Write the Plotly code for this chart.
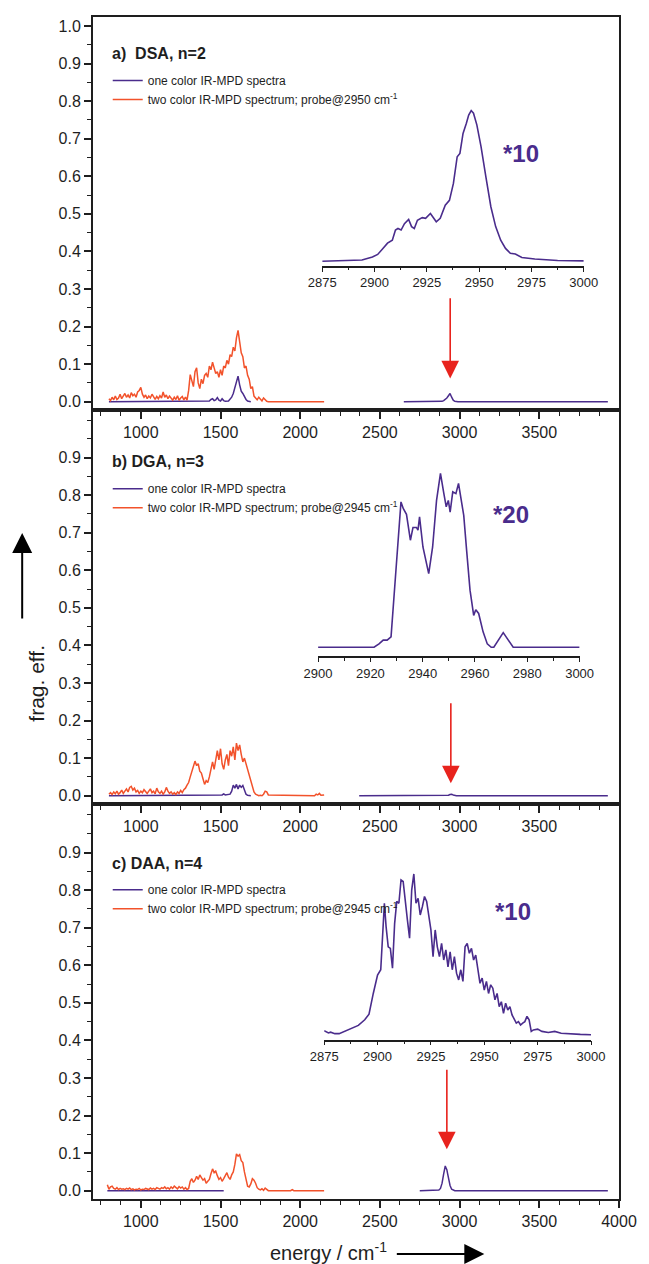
import plotly.graph_objects as go

PURPLE = '#4a2c8c'
ORANGE = '#f2522b'
RED = '#e8231d'
AX = '#1e1e1e'
TXT = '#1e1e1e'
FONT = 'Liberation Sans, Arial, sans-serif'

# ---------------- data ----------------
# panel a) DSA, n=2
a_one_x = [800, 1420, 1430, 1440, 1450, 1460, 1470, 1480, 1490, 1500, 1510, 1520, 1530, 1550, 1560,
           1570, 1580, 1590, 1600, 1610, 1620, 1630, 1640, 1650, 1660, 1670, 1690, 1700,
           2650, 2870, 2890, 2900, 2910, 2920, 2930, 2940, 2950, 2960, 2970, 2990, 3930]
a_one_y = [0, 0, 0.002, 0.006, 0.008, 0.003, 0.005, 0.011, 0.004, 0.002, 0.008, 0.003, 0.001, 0.002, 0.006,
           0.012, 0.022, 0.038, 0.056, 0.068, 0.045, 0.028, 0.022, 0.012, 0.006, 0.002, 0, None,
           0, 0, 0.001, 0.003, 0.006, 0.010, 0.016, 0.022, 0.012, 0.004, 0.001, 0, 0]
a_two_x = list(range(800, 1801, 10)) + [2150]
a_two_y = [0.008, 0.003, 0.012, 0.005, 0.015, 0.006, 0.010, 0.020, 0.008, 0.014,
           0.022, 0.012, 0.018, 0.010, 0.024, 0.016, 0.020, 0.012, 0.026, 0.030,
           0.038, 0.020, 0.012, 0.018, 0.008, 0.015, 0.010, 0.020, 0.012, 0.006,
           0.014, 0.008, 0.016, 0.010, 0.026, 0.012, 0.018, 0.008, 0.015, 0.010,
           0.004, 0.012, 0.006, 0.016, 0.004, 0.010, 0.014, 0.005, 0.012, 0.004,
           0.030, 0.072, 0.055, 0.040, 0.080, 0.090, 0.050, 0.035, 0.060, 0.048,
           0.070, 0.075, 0.065, 0.095, 0.085, 0.105, 0.090, 0.075, 0.080, 0.065,
           0.085, 0.070, 0.095, 0.090, 0.110, 0.100, 0.125, 0.120, 0.145, 0.135,
           0.170, 0.190, 0.160, 0.130, 0.120, 0.090, 0.095, 0.070, 0.060, 0.035,
           0.040, 0.015, 0.010, 0.005, 0.012, 0.008, 0.002, 0.010, 0.004, 0.001,
           0.000, 0.000]
a_inset_x = [2875, 2894, 2899, 2901.5, 2903.9, 2906.2, 2908.5, 2910, 2911.2, 2912.7, 2914.3, 2916.3,
             2917.7, 2919, 2920.5, 2922.8, 2924.4, 2926.7, 2929.5, 2931.4, 2933.8, 2935.8, 2937.7,
             2939.5, 2940.8, 2942.3, 2943.9, 2945, 2946.2, 2947.3, 2948.9, 2950.9, 2953.2, 2955.6,
             2957.9, 2960.3, 2962.6, 2964.9, 2967.3, 2970.4, 2976.6, 2987.5, 3000]
a_inset_y = [0.374, 0.377, 0.385, 0.392, 0.407, 0.422, 0.430, 0.457, 0.461, 0.457, 0.474, 0.485,
             0.466, 0.461, 0.483, 0.490, 0.488, 0.501, 0.479, 0.488, 0.523, 0.536, 0.581,
             0.652, 0.661, 0.714, 0.741, 0.763, 0.775, 0.768, 0.737, 0.679, 0.599, 0.519,
             0.466, 0.430, 0.408, 0.395, 0.393, 0.384, 0.380, 0.376, 0.375]

# panel b) DGA, n=3
b_one_x = [800, 1340, 1350, 1360, 1500, 1510, 1520, 1530, 1560, 1570, 1580, 1590, 1600, 1610, 1620,
           1630, 1640, 1650, 1660, 1670, 1690, 1700,
           2370, 2900, 2930, 2940, 2950, 2960, 2980, 3200, 3210, 3220, 3930]
b_one_y = [0, 0, 0.002, 0, 0, 0.002, 0.005, 0.002, 0.004, 0.012, 0.028, 0.020, 0.030, 0.018, 0.028,
           0.022, 0.027, 0.012, 0.004, 0.001, 0, None,
           0, 0, 0.001, 0.003, 0.004, 0.002, 0, 0, 0.001, 0, 0]
b_two_x = list(range(800, 1801, 10)) + [2090, 2100, 2110, 2120, 2130, 2150]
b_two_y = [0.004, 0.008, 0.003, 0.010, 0.005, 0.012, 0.004, 0.008, 0.015, 0.006,
           0.012, 0.018, 0.010, 0.022, 0.025, 0.015, 0.020, 0.010, 0.014, 0.006,
           0.012, 0.008, 0.016, 0.010, 0.006, 0.012, 0.018, 0.008, 0.012, 0.005,
           0.020, 0.010, 0.006, 0.012, 0.004, 0.010, 0.022, 0.012, 0.006, 0.010,
           0.004, 0.008, 0.003, 0.010, 0.006, 0.014, 0.008, 0.016, 0.020, 0.028,
           0.035, 0.050, 0.062, 0.075, 0.092, 0.080, 0.085, 0.065, 0.060, 0.045,
           0.030, 0.040, 0.035, 0.050, 0.075, 0.090, 0.070, 0.100, 0.120, 0.095,
           0.125, 0.085, 0.070, 0.095, 0.110, 0.080, 0.120, 0.105, 0.130, 0.095,
           0.140, 0.120, 0.135, 0.110, 0.090, 0.100, 0.085, 0.070, 0.055, 0.035,
           0.020, 0.010, 0.004, 0.002, 0.000, 0.001, 0.000, 0.004, 0.012, 0.010,
           0.002, 0.000, 0.004, 0.002, 0.006, 0.001, 0.002]
b_inset_x = [2900, 2921.4, 2923.3, 2924.9, 2926.4, 2927.9, 2929.5, 2930.9, 2931.7, 2932.6, 2933.8,
             2935.3, 2936.3, 2937.6, 2938.2, 2938.8, 2940.1, 2942.3, 2943.8, 2945.3, 2946.8, 2948.1,
             2949, 2949.8, 2950.5, 2951.5, 2952.7, 2953.7, 2954.7, 2955.7, 2956.8, 2958.1, 2959.5,
             2960.3, 2961.4, 2963.1, 2964.7, 2966.2, 2967.2, 2970.8, 2974.6, 3000]
b_inset_y = [0.395, 0.395, 0.404, 0.414, 0.414, 0.423, 0.574, 0.725, 0.782, 0.764, 0.749,
             0.680, 0.714, 0.714, 0.707, 0.742, 0.662, 0.591, 0.662, 0.786, 0.858, 0.804,
             0.769, 0.786, 0.755, 0.809, 0.804, 0.831, 0.786, 0.746, 0.653, 0.547, 0.480,
             0.495, 0.485, 0.436, 0.404, 0.395, 0.395, 0.434, 0.395, 0.395]

# panel c) DAA, n=4
c_one_x = [790, 1520, 1530, 2750, 2860, 2870, 2880, 2890, 2900, 2905, 2910, 2915, 2920, 2925, 2930,
           2940, 2950, 2960, 2970, 3930]
c_one_y = [0, 0, None, 0, 0, 0.002, 0.006, 0.020, 0.045, 0.058, 0.066, 0.060, 0.056, 0.045, 0.032,
           0.014, 0.004, 0.001, 0, 0]
c_two_x = list(range(790, 1801, 10)) + [1940, 1950, 1960, 2150]
c_two_y = [0.016, 0.004, 0.010, 0.012, 0.006, 0.004, 0.008, 0.003, 0.006, 0.004,
           0.005, 0.003, 0.006, 0.004, 0.007, 0.003, 0.005, 0.002, 0.004, 0.003,
           0.006, 0.002, 0.004, 0.003, 0.006, 0.004, 0.003, 0.007, 0.004, 0.006,
           0.003, 0.008, 0.005, 0.004, 0.008, 0.006, 0.010, 0.005, 0.008, 0.004,
           0.010, 0.006, 0.012, 0.008, 0.005, 0.011, 0.007, 0.010, 0.004, 0.008,
           0.003, 0.006, 0.025, 0.032, 0.022, 0.028, 0.038, 0.030, 0.042, 0.035,
           0.028, 0.032, 0.020, 0.025, 0.030, 0.045, 0.058, 0.048, 0.052, 0.040,
           0.030, 0.035, 0.025, 0.032, 0.040, 0.048, 0.036, 0.030, 0.042, 0.050,
           0.070, 0.098, 0.092, 0.096, 0.080, 0.075, 0.050, 0.030, 0.012, 0.010,
           0.018, 0.032, 0.028, 0.020, 0.008, 0.004, 0.002, 0.005, 0.001, 0.007,
           0.002, 0.000, 0.000, 0.003, 0.000, 0.000]
c_inset_x = [2875, 2876, 2877, 2878, 2880, 2882, 2885, 2888, 2891, 2894, 2896, 2898, 2900, 2901.5,
             2902.5, 2903.2, 2904, 2905, 2906, 2907, 2908, 2909, 2910, 2911, 2912, 2913, 2914, 2915,
             2916, 2917, 2918, 2919, 2920, 2921, 2922, 2923, 2924, 2925, 2926, 2927, 2928, 2929,
             2930, 2931, 2932, 2933, 2934, 2935, 2936, 2937, 2938, 2939, 2940, 2941, 2942, 2943,
             2944, 2945, 2946, 2947, 2948, 2949, 2950, 2951, 2952, 2953, 2954, 2955, 2956, 2957,
             2958, 2959, 2960, 2961, 2962, 2963, 2964, 2965, 2966, 2967, 2968, 2969, 2970, 2971,
             2972, 2973, 2975, 2977, 2980, 2983, 2986, 2990, 2995, 3000]
c_inset_y = [0.426, 0.424, 0.420, 0.422, 0.418, 0.418, 0.425, 0.432, 0.440, 0.455, 0.470, 0.525,
             0.574, 0.588, 0.703, 0.765, 0.703, 0.649, 0.645, 0.592, 0.711, 0.770, 0.765, 0.827,
             0.823, 0.778, 0.720, 0.672, 0.800, 0.843, 0.765, 0.778, 0.734, 0.756, 0.783, 0.770,
             0.729, 0.694, 0.623, 0.694, 0.649, 0.623, 0.658, 0.614, 0.641, 0.596, 0.636, 0.588,
             0.623, 0.579, 0.561, 0.588, 0.557, 0.649, 0.658, 0.632, 0.645, 0.614, 0.627, 0.588,
             0.552, 0.566, 0.534, 0.557, 0.525, 0.548, 0.539, 0.508, 0.525, 0.490, 0.503, 0.472,
             0.499, 0.481, 0.490, 0.468, 0.455, 0.446, 0.450, 0.441, 0.446, 0.450, 0.464, 0.455,
             0.424, 0.428, 0.430, 0.424, 0.421, 0.424, 0.419, 0.417, 0.416, 0.415]

panel_labels = ['a)  DSA, n=2', 'b) DGA, n=3', 'c) DAA, n=4']
probe_labels = ['two color IR-MPD spectrum; probe@2950 cm<sup>-1</sup>',
                'two color IR-MPD spectrum; probe@2945 cm<sup>-1</sup>',
                'two color IR-MPD spectrum; probe@2945 cm<sup>-1</sup>']
scale_labels = ['*10', '*20', '*10']
probe_pos = [2941, 2945, 2920]

main_ticks_top = [1000, 1500, 2000, 2500, 3000, 3500]
main_ticks_bottom = [1000, 1500, 2000, 2500, 3000, 3500, 4000]

# --------------- layout geometry ---------------
W, H = 649, 1264
ML, MR, MT, MB = 93, 19, 17, 65
y_dom = {1: [0.6675, 1.0], 2: [0.3342, 0.6675], 3: [0.0, 0.3342]}
y_rng = {1: [-0.0221, 1.0240], 2: [-0.0221, 1.0266], 3: [-0.0221, 1.0293]}
xr = [700, 4000]

fig = go.Figure()

panels = [
    (1, '', a_one_x, a_one_y, a_two_x, a_two_y, a_inset_x, a_inset_y, 'legend'),
    (2, '2', b_one_x, b_one_y, b_two_x, b_two_y, b_inset_x, b_inset_y, 'legend2'),
    (3, '3', c_one_x, c_one_y, c_two_x, c_two_y, c_inset_x, c_inset_y, 'legend3'),
]

for (p, s, ox, oy, tx, ty, ix, iy, lg) in panels:
    fig.add_trace(go.Scatter(x=ox, y=oy, mode='lines', line=dict(color=PURPLE, width=1.5),
                             name='one color IR-MPD spectra', xaxis='x' + s, yaxis='y' + s,
                             legend=lg, connectgaps=False))
    fig.add_trace(go.Scatter(x=tx, y=ty, mode='lines', line=dict(color=ORANGE, width=1.5),
                             name=probe_labels[p - 1], xaxis='x' + s, yaxis='y' + s, legend=lg))
    fig.add_trace(go.Scatter(x=ix, y=iy, mode='lines', line=dict(color=PURPLE, width=1.6),
                             showlegend=False, xaxis='x' + str(p + 3), yaxis='y' + str(p + 3)))

tickfont = dict(family=FONT, size=16, color=TXT)
inset_font = dict(family=FONT, size=13, color=TXT)

layout = dict(
    width=W, height=H, margin=dict(l=ML, r=MR, t=MT, b=MB),
    paper_bgcolor='white', plot_bgcolor='rgba(0,0,0,0)',
    font=dict(family=FONT, color=TXT),
    showlegend=True,
)

for p in (1, 2, 3):
    s = '' if p == 1 else str(p)
    layout['xaxis' + s] = dict(
        domain=[0, 1], range=xr, anchor='y' + s, showline=True, linecolor=AX, linewidth=2,
        mirror=True, ticks='outside', ticklen=7, tickwidth=1.5, tickcolor=AX,
        tickmode='array', tickvals=main_ticks_bottom if p == 3 else main_ticks_top,
        tickfont=tickfont, showgrid=False, zeroline=False,
        minor=dict(tickmode='linear', tick0=750, dtick=125, ticks='outside', ticklen=4,
                   tickwidth=1.2, tickcolor=AX, showgrid=False))
    yt = [i / 10 for i in range(11 if p == 1 else 10)]
    layout['yaxis' + s] = dict(
        domain=y_dom[p], range=y_rng[p], anchor='x' + s, showline=True, linecolor=AX, linewidth=2,
        mirror=True, ticks='outside', ticklen=7, tickwidth=1.5, tickcolor=AX,
        tickmode='array', tickvals=yt, ticktext=['%.1f' % v for v in yt],
        tickfont=tickfont, showgrid=False, zeroline=False,
        minor=dict(tickmode='linear', tick0=0, dtick=0.05, ticks='outside', ticklen=4,
                   tickwidth=1.2, tickcolor=AX, showgrid=False))
    # right-side inward ticks
    layout['yaxis' + str(p + 6)] = dict(
        overlaying='y' + s, anchor='x' + s, side='right', range=y_rng[p], showline=False,
        ticks='inside', ticklen=7, tickwidth=1.5, tickcolor=AX, tickmode='array', tickvals=yt,
        showticklabels=False, showgrid=False, zeroline=False,
        minor=dict(tickmode='linear', tick0=0, dtick=0.05, ticks='inside', ticklen=4,
                   tickwidth=1.2, tickcolor=AX, showgrid=False))

# top inward ticks of the upper panel
layout['xaxis7'] = dict(
    overlaying='x', anchor='y', side='top', range=xr, showline=False, ticks='inside', ticklen=7,
    tickwidth=1.5, tickcolor=AX, tickmode='array', tickvals=main_ticks_bottom, showticklabels=False,
    showgrid=False, zeroline=False,
    minor=dict(tickmode='linear', tick0=750, dtick=125, ticks='inside', ticklen=4, tickwidth=1.2,
               tickcolor=AX, showgrid=False))

# insets
insets = {
    4: dict(dom=[0.4358, 0.9330], pos=0.7887, rng=[2875, 3000], d=25, md=12.5, p=1),
    5: dict(dom=[0.4279, 0.9251], pos=0.4583, rng=[2900, 3000], d=20, md=10, p=2),
    6: dict(dom=[0.4395, 0.9468], pos=0.1339, rng=[2875, 3000], d=25, md=12.5, p=3),
}
for k, v in insets.items():
    layout['xaxis%d' % k] = dict(
        domain=v['dom'], range=v['rng'], anchor='free', position=v['pos'], showline=True,
        linecolor=AX, linewidth=1.5, ticks='outside', ticklen=4, tickwidth=1.2, tickcolor=AX,
        tickmode='linear', tick0=v['rng'][0], dtick=v['d'], tickfont=inset_font,
        showgrid=False, zeroline=False,
        minor=dict(tickmode='linear', tick0=v['rng'][0], dtick=v['md'], ticks='outside',
                   ticklen=2.5, tickwidth=1, tickcolor=AX, showgrid=False))
    layout['yaxis%d' % k] = dict(domain=y_dom[v['p']], range=y_rng[v['p']], anchor='x%d' % k,
                                 visible=False)

leg_common = dict(xanchor='left', yanchor='top', bgcolor='rgba(0,0,0,0)', borderwidth=0,
                  font=dict(family=FONT, size=12, color=TXT), tracegroupgap=0, itemwidth=30)
layout['legend'] = dict(x=0.028, y=0.9585, **leg_common)
layout['legend2'] = dict(x=0.028, y=0.6132, **leg_common)
layout['legend3'] = dict(x=0.028, y=0.2740, **leg_common)

annotations = []
label_y = [0.927, 0.889, 0.871]
scale_xy = [(3385, 0.662), (3320, 0.749), (3332, 0.743)]
arrow_tip = [0.062, 0.033, 0.110]
arrow_tail = [0.2795, 0.250, 0.326]
for p in (1, 2, 3):
    s = '' if p == 1 else str(p)
    annotations.append(dict(x=804, y=label_y[p - 1], xref='x' + s, yref='y' + s,
                            text='<b>%s</b>' % panel_labels[p - 1], showarrow=False,
                            xanchor='left', yanchor='middle',
                            font=dict(family=FONT, size=16, color=TXT)))
    annotations.append(dict(x=scale_xy[p - 1][0], y=scale_xy[p - 1][1], xref='x' + s, yref='y' + s,
                            text='<b>%s</b>' % scale_labels[p - 1], showarrow=False,
                            font=dict(family=FONT, size=24, color=PURPLE)))
    annotations.append(dict(x=probe_pos[p - 1], y=arrow_tip[p - 1], xref='x' + s, yref='y' + s,
                            ax=probe_pos[p - 1], ay=arrow_tail[p - 1], axref='x' + s, ayref='y' + s,
                            text='', showarrow=True, arrowhead=2, arrowsize=2.2, arrowwidth=1.6,
                            arrowcolor=RED, standoff=0))

# axis titles with arrows
annotations.append(dict(x=(20.7 - ML) / 537, y=(1199 - 683) / 1182, xref='paper', yref='paper',
                        text='frag. eff.', textangle=-90, showarrow=False,
                        font=dict(family=FONT, size=21, color=TXT)))
annotations.append(dict(x=(20.7 - ML) / 537, y=(1199 - 533) / 1182, xref='paper', yref='paper',
                        text='', showarrow=True, ax=0, ay=87, arrowhead=2, arrowsize=2,
                        arrowwidth=2, arrowcolor='#000000', standoff=0))
annotations.append(dict(x=(333 - ML) / 537, y=(1199 - 1266) / 1182, xref='paper', yref='paper',
                        text='energy / cm<sup>-1</sup>', showarrow=False,
                        font=dict(family=FONT, size=20, color=TXT)))
annotations.append(dict(x=(492.5 - ML) / 537, y=(1199 - 1254) / 1182, xref='paper', yref='paper',
                        text='', showarrow=True, ax=-89, ay=0, arrowhead=2, arrowsize=2,
                        arrowwidth=2, arrowcolor='#000000', standoff=0))
layout['annotations'] = annotations

fig.update_layout(**layout)
fig.write_html('out.html')
